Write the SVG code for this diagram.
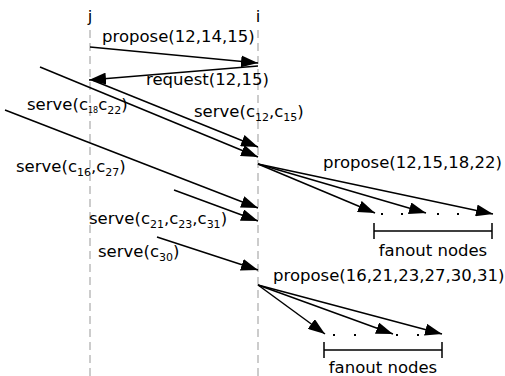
<svg xmlns="http://www.w3.org/2000/svg" width="505" height="376" viewBox="0 0 505 376">
<style>
text{font-family:"DejaVu Sans",Verdana,sans-serif;font-size:16.5px;fill:#000}
.sub{font-size:11px}
.tiny{font-size:8px}
.life{stroke:#999;stroke-width:1;stroke-dasharray:8 5;fill:none}
.msg{stroke:#000;stroke-width:1.5;fill:none;marker-end:url(#ah)}
.br{stroke:#000;stroke-width:1.5;fill:none}
</style>
<defs>
<marker id="ah" viewBox="0 0 17 12" refX="17" refY="6" markerWidth="17" markerHeight="12" markerUnits="userSpaceOnUse" orient="auto">
<path d="M0,0 L17,6 L0,12 z" fill="#000"/>
</marker>
</defs>
<rect width="505" height="376" fill="#fff"/>
<g id="node-j">
<line class="life" x1="90" y1="30" x2="90" y2="376"/>
<text x="90" y="22" text-anchor="middle">j</text>
</g>
<g id="node-i">
<line class="life" x1="258" y1="30" x2="258" y2="376"/>
<text x="258" y="22" text-anchor="middle">i</text>
</g>
<g id="connectors">
<line class="msg" x1="90" y1="47" x2="258" y2="63"/>
<line class="msg" x1="258" y1="66" x2="89" y2="80"/>
<line class="msg" x1="92" y1="80" x2="258" y2="147"/>
<line class="msg" x1="40" y1="67" x2="258" y2="157"/>
<line class="msg" x1="5" y1="110" x2="258" y2="208"/>
<line class="msg" x1="174" y1="190" x2="258" y2="221"/>
<line class="msg" x1="157" y1="237" x2="258" y2="270"/>
<line class="msg" x1="258" y1="164" x2="375" y2="213"/>
<line class="msg" x1="258" y1="164" x2="426" y2="213"/>
<line class="msg" x1="258" y1="164" x2="493" y2="214"/>
<line class="msg" x1="258" y1="285" x2="325" y2="334"/>
<line class="msg" x1="258" y1="285" x2="393" y2="334"/>
<line class="msg" x1="258" y1="285" x2="442" y2="334"/>
</g>
<g id="labels">
<text x="102" y="42">propose(12,14,15)</text>
<text x="146" y="85">request(12,15)</text>
<text x="27" y="110">serve(c<tspan class="tiny" dy="3">18</tspan><tspan dy="-3">c</tspan><tspan class="sub" dy="4">22</tspan><tspan dy="-4">)</tspan></text>
<text x="194" y="117">serve(c<tspan class="sub" dy="4">12</tspan><tspan dy="-4">,c</tspan><tspan class="sub" dy="4">15</tspan><tspan dy="-4">)</tspan></text>
<text x="16" y="172">serve(c<tspan class="sub" dy="4">16</tspan><tspan dy="-4">,c</tspan><tspan class="sub" dy="4">27</tspan><tspan dy="-4">)</tspan></text>
<text x="89" y="224">serve(c<tspan class="sub" dy="4">21</tspan><tspan dy="-4">,c</tspan><tspan class="sub" dy="4">23</tspan><tspan dy="-4">,c</tspan><tspan class="sub" dy="4">31</tspan><tspan dy="-4">)</tspan></text>
<text x="98" y="257">serve(c<tspan class="sub" dy="4">30</tspan><tspan dy="-4">)</tspan></text>
<text x="323" y="168">propose(12,15,18,22)</text>
<text x="273" y="281">propose(16,21,23,27,30,31)</text>
</g>
<g id="fanout-1">
<g fill="#000">
<rect x="381" y="213" width="2" height="2"/>
<rect x="401" y="213" width="2" height="2"/>
<rect x="437" y="213" width="2" height="2"/>
<rect x="457" y="213" width="2" height="2"/>
</g>
<path class="br" d="M374,231 H492 M374,223 V239 M492,223 V239"/>
<text x="433" y="256" text-anchor="middle">fanout nodes</text>
</g>
<g id="fanout-2">
<g fill="#000">
<rect x="333" y="334" width="2" height="2"/>
<rect x="354" y="334" width="2" height="2"/>
<rect x="396" y="334" width="2" height="2"/>
<rect x="417" y="334" width="2" height="2"/>
</g>
<path class="br" d="M324,350 H442 M324,342 V358 M442,342 V358"/>
<text x="383" y="373" text-anchor="middle">fanout nodes</text>
</g>
</svg>
